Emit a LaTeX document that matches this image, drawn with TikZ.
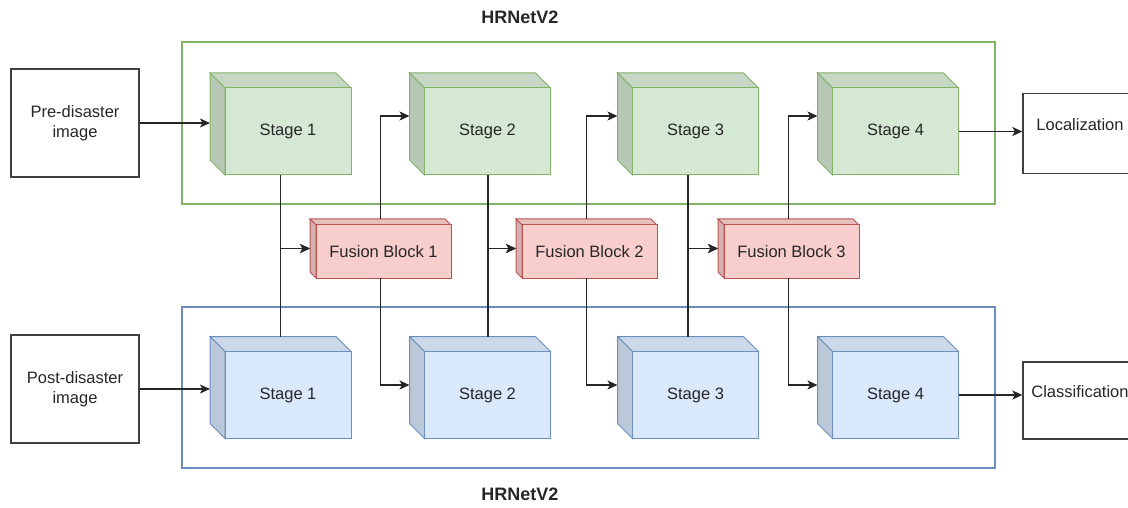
\documentclass[tikz,border=0pt]{standalone}
\usepackage{fontspec}
\setmainfont{Liberation Sans}
\usetikzlibrary{arrows.meta,calc}

\definecolor{grnfill}{HTML}{D5E8D4}
\definecolor{grnline}{HTML}{82B366}
\definecolor{blufill}{HTML}{DAE8FC}
\definecolor{bluline}{HTML}{6C8EBF}
\definecolor{redfill}{HTML}{F8CECC}
\definecolor{redline}{HTML}{B85450}
\definecolor{txt}{HTML}{262626}

\tikzset{
  cubebox/.style={minimum width=141pt, minimum height=102pt, inner sep=0pt, outer sep=0pt},
  fusebox/.style={minimum width=141pt, minimum height=59pt, inner sep=0pt, outer sep=0pt},
  label text/.style={font=\fontsize{16.5}{20}\selectfont, text=txt, inner sep=0pt},
  imgbox/.style={draw=black!75, line width=1.3pt, minimum width=128pt, minimum height=108pt,
    align=center, font=\fontsize{16.5}{20}\selectfont, text=txt},
  outbox/.style={draw=black!75, line width=1.3pt, minimum width=114pt, minimum height=80pt,
    text depth=18pt, font=\fontsize{16.5}{20}\selectfont, text=txt},
  nettitle/.style={font=\bfseries\fontsize{18}{22}\selectfont, text=txt},
  conn/.style={draw=black!85, line width=1.3pt, -{Stealth[length=10pt, width=9pt, inset=2.5pt]}},
}

\begin{document}
\begin{tikzpicture}[x=1pt, y=1pt]
\useasboundingbox (0,0) rectangle (1128,507);

% the two HRNetV2 branches
\draw[grnline, line width=1.6pt] (182,303) rectangle (995,465);
\draw[bluline, line width=1.6pt] (182,39) rectangle (995,200);
\node[nettitle] (toptitle) at (520,490) {HRNetV2};
\node[nettitle] (bottitle) at (520,13) {HRNetV2};

% inputs and outputs
\node[imgbox] (pre) at (75,384) {Pre-disaster\\image};
\node[imgbox] (post) at (75,118) {Post-disaster\\image};
\node[outbox] (loc) at (1080,373.5) {Localization};
\node[outbox, minimum height=77pt] (cls) at (1080,106.5) {Classification};

% stages: g = pre-disaster row, b = post-disaster row
\foreach \r/\c/\y in {g/grn/383, b/blu/119.5} {
  \foreach \i/\x in {1/280.5, 2/480, 3/688, 4/888} {
    \node[cubebox] (\r s\i) at (\x,\y) {};
    % top face
    \filldraw[draw=\c line, line width=1pt, fill=\c fill!93!black]
      (\r s\i.north west) -- ([xshift=-15pt]\r s\i.north east) -- ([yshift=-15pt]\r s\i.north east)
      -- ([xshift=15pt, yshift=-15pt]\r s\i.north west) -- cycle;
    % left face
    \filldraw[draw=\c line, line width=1pt, fill=\c fill!86!black]
      (\r s\i.north west) -- ([xshift=15pt, yshift=-15pt]\r s\i.north west)
      -- ([xshift=15pt]\r s\i.south west) -- ([yshift=15pt]\r s\i.south west) -- cycle;
    % front face
    \filldraw[draw=\c line, line width=1pt, fill=\c fill]
      ([xshift=15pt, yshift=-15pt]\r s\i.north west) rectangle (\r s\i.south east);
    \node[label text] (\r s\i t) at ($(\r s\i.center)+(7.5,-7.5)$) {Stage \i};
  }
}

% fusion blocks between the rows
\foreach \i/\x in {1/380.5, 2/586.5, 3/788.5} {
  \node[fusebox] (fb\i) at (\x,258.5) {};
  \filldraw[draw=redline, line width=1pt, fill=redfill!93!black]
    (fb\i.north west) -- ([xshift=-6pt]fb\i.north east) -- ([yshift=-6pt]fb\i.north east)
    -- ([xshift=6pt, yshift=-6pt]fb\i.north west) -- cycle;
  \filldraw[draw=redline, line width=1pt, fill=redfill!86!black]
    (fb\i.north west) -- ([xshift=6pt, yshift=-6pt]fb\i.north west)
    -- ([xshift=6pt]fb\i.south west) -- ([yshift=6pt]fb\i.south west) -- cycle;
  \filldraw[draw=redline, line width=1pt, fill=redfill]
    ([xshift=6pt, yshift=-6pt]fb\i.north west) rectangle (fb\i.south east);
  \node[label text] (fb\i t) at ($(fb\i.center)+(3,-3)$) {Fusion Block \i};
}

% images into first stage
\draw[conn] (pre.east) -- (pre.east -| gs1.west);
\draw[conn] (post.east) -- (post.east -| bs1.west);

% stage outputs into fusion (stage 2 leaves a bit right of centre)
\foreach \i/\dx in {1/0, 2/8, 3/0} {
  \draw[conn] ([xshift=\dx pt]gs\i.south) |- (fb\i.west);
  \draw[conn] ([xshift=\dx pt]bs\i.north) |- (fb\i.west);
}

% fusion outputs into next stage
\foreach \i/\n in {1/2, 2/3, 3/4} {
  \draw[conn] (fb\i.north) |- ([yshift=8pt]gs\n.west);
  \draw[conn] (fb\i.south) |- ([yshift=2.5pt]bs\n.west);
}

% heads
\path ([yshift=-7.5pt]gs4.east) coordinate (gout);
\path ([yshift=-7.5pt]bs4.east) coordinate (bout);
\draw[conn] (gout) -- (gout -| loc.west);
\draw[conn] (bout) -- (bout -| cls.west);

\end{tikzpicture}
\end{document}
